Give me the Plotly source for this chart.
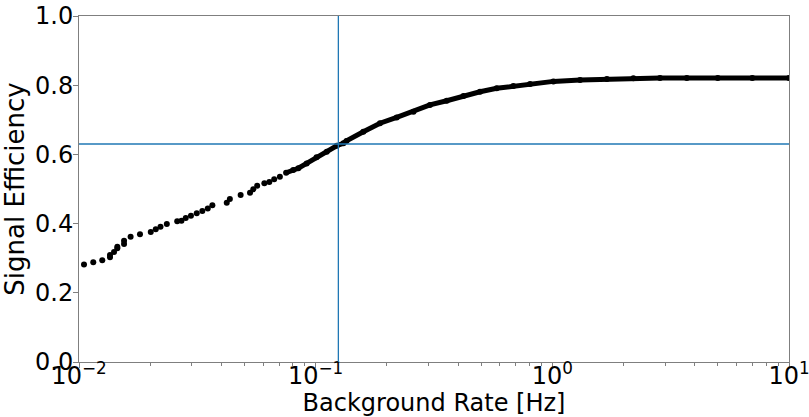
import plotly.graph_objects as go

# Background rate [Hz] and signal efficiency
bg_rate = [0.0105, 0.01149, 0.01254, 0.01352, 0.01352, 0.01406, 0.01452, 0.01452, 0.0155, 0.0155,
           0.01652, 0.0181, 0.0201, 0.0211, 0.0221, 0.0235, 0.026, 0.0271, 0.02825, 0.02972,
           0.03144, 0.0332, 0.035, 0.0366, 0.0421, 0.0434, 0.0482, 0.0528, 0.0545, 0.0566,
           0.0607, 0.0637, 0.0668, 0.0706, 0.075, 0.0804, 0.0845, 0.0916, 0.1009, 0.1114,
           0.1227, 0.131, 0.135, 0.159, 0.187, 0.220, 0.259, 0.304, 0.358, 0.421,
           0.495, 0.582, 0.684, 0.805, 1.01, 1.31, 1.70, 2.20, 2.85, 3.7, 5.0, 7.0, 10.0]
sig_eff = [0.282, 0.288, 0.294, 0.3026, 0.309, 0.318, 0.3286, 0.333, 0.341, 0.3506,
           0.362, 0.369, 0.376, 0.3835, 0.391, 0.399, 0.4066, 0.408, 0.416, 0.423,
           0.430, 0.4364, 0.444, 0.453, 0.460, 0.471, 0.4827, 0.489, 0.499, 0.5096,
           0.5165, 0.520, 0.528, 0.5356, 0.547, 0.555, 0.560, 0.574, 0.5916, 0.608,
           0.625, 0.632, 0.639, 0.6656, 0.690, 0.707, 0.7235, 0.743, 0.755, 0.769,
           0.781, 0.791, 0.7977, 0.8035, 0.811, 0.815, 0.818, 0.820, 0.8205, 0.821, 0.821, 0.821, 0.821]

# Working point
wp_rate = 0.1247
wp_eff = 0.630

x_tickvals = [0.01, 0.1, 1, 10]
x_ticktext = ["10<sup>\u22122</sup>", "10<sup>\u22121</sup>", "10<sup>0</sup>", "10<sup>1</sup>"]
y_tickvals = [0.0, 0.2, 0.4, 0.6, 0.8, 1.0]

minor_vals = [m * 10 ** e for e in (-2, -1, 0) for m in range(2, 10)]

FONT = "DejaVu Sans"
AXC = "#7f7f7f"

fig = go.Figure()

dense_x = [x for x in bg_rate if x >= 0.075]
dense_y = [y for x, y in zip(bg_rate, sig_eff) if x >= 0.075]
fig.add_trace(go.Scatter(x=dense_x, y=dense_y, mode="lines",
                         line=dict(color="black", width=5), hoverinfo="skip", showlegend=False))
fig.add_trace(go.Scatter(x=bg_rate, y=sig_eff, mode="markers",
                         marker=dict(color="black", size=6), showlegend=False))

fig.add_shape(type="line", xref="x", yref="paper", x0=wp_rate, x1=wp_rate, y0=0, y1=1,
              line=dict(color="#1f77b4", width=1.3), layer="above")
fig.add_shape(type="line", xref="paper", yref="y", x0=0, x1=1, y0=wp_eff, y1=wp_eff,
              line=dict(color="#1f77b4", width=1.3), layer="above")

fig.update_layout(
    width=809, height=417,
    margin=dict(l=79, r=20, t=16, b=55, pad=0),
    plot_bgcolor="white", paper_bgcolor="white",
    font=dict(family=FONT, color="black", size=24),
    xaxis=dict(type="log", range=[-2, 1], tickvals=x_tickvals, ticktext=x_ticktext,
               automargin=False, ticklabelstandoff=-13, ticklabeloverflow="allow",
               showgrid=False, zeroline=False, showline=True, linecolor=AXC, linewidth=1,
               mirror=True, ticks="outside", ticklen=5, tickcolor=AXC,
               tickfont=dict(size=24, family=FONT),
               minor=dict(tickvals=minor_vals, ticks="outside", ticklen=3, tickcolor=AXC),
               title=dict(text="Background Rate [Hz]", font=dict(size=24, family=FONT), standoff=0)),
    yaxis=dict(range=[0, 1], tickvals=y_tickvals, tickformat=".1f",
               automargin=False, ticklabelstandoff=-5, ticklabeloverflow="allow",
               showgrid=False, zeroline=False, showline=True, linecolor=AXC, linewidth=1,
               mirror=True, ticks="outside", ticklen=5, tickcolor=AXC,
               tickfont=dict(size=24, family=FONT),
               title=dict(text="Signal Efficiency", font=dict(size=26, family=FONT), standoff=8)),
)

fig.write_html("out.html", config={"displayModeBar": False},
               post_script="document.body.style.margin='0';document.body.style.overflow='hidden';")
